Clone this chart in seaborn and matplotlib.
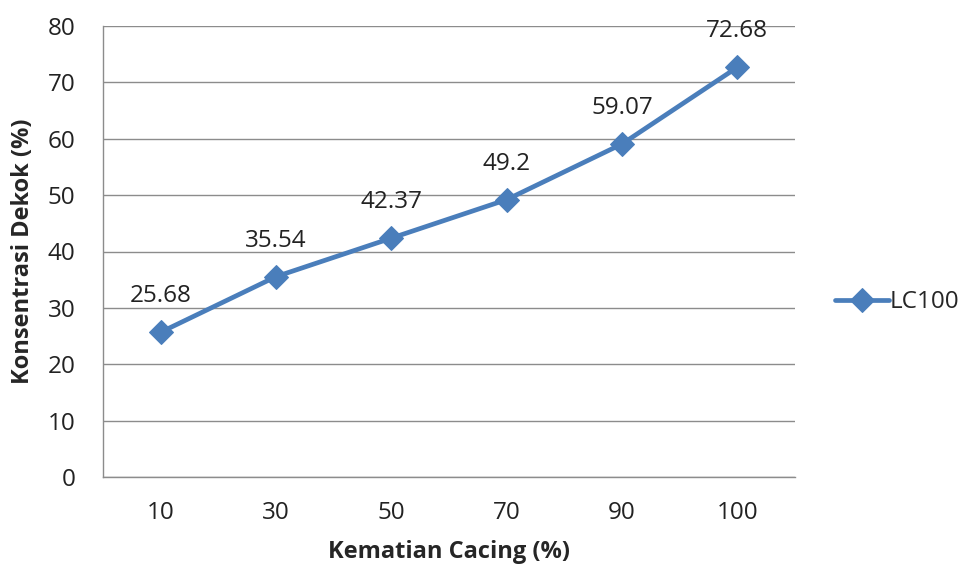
import matplotlib
matplotlib.use("Agg")
import matplotlib.pyplot as plt
import seaborn as sns
import pandas as pd

# Worm mortality levels (categorical x) and decoction concentration (%)
kematian = ["10", "30", "50", "70", "90", "100"]
konsentrasi = [25.68, 35.54, 42.37, 49.2, 59.07, 72.68]
label_teks = ["25.68", "35.54", "42.37", "49.2", "59.07", "72.68"]
y_ticks = [0, 10, 20, 30, 40, 50, 60, 70, 80]
series_name = "LC100"

df = pd.DataFrame({"Kematian": kematian, "Konsentrasi": konsentrasi})

sns.set_theme(style="white")
plt.rcParams["font.family"] = ["Open Sans", "DejaVu Sans"]

fig = plt.figure(figsize=(9.74, 5.70), dpi=100)
ax = fig.add_axes([103 / 974, 1 - 477 / 570, (795 - 103) / 974, (477 - 26) / 570])

blue = "#4A7EBB"
sns.lineplot(data=df, x="Kematian", y="Konsentrasi", ax=ax, color=blue,
             linewidth=3.4, marker="D", markersize=12, markeredgecolor=blue,
             label=series_name, sort=False)

for i, (v, t) in enumerate(zip(konsentrasi, label_teks)):
    ax.annotate(t, (i, v), xytext=(0, 21.5), textcoords="offset points",
                ha="center", va="baseline", fontsize=17.5, color="#222222")

ax.set_xlim(-0.5, len(kematian) - 0.5)
ax.set_ylim(0, 80)
ax.set_yticks(y_ticks)
ax.set_yticklabels([str(t) for t in y_ticks])
ax.grid(axis="y", color="#8c8c8c", linewidth=1.0)
ax.set_axisbelow(True)
for s in ["top", "right"]:
    ax.spines[s].set_visible(False)
for s in ["left", "bottom"]:
    ax.spines[s].set_color("#8c8c8c")
    ax.spines[s].set_linewidth(1.0)

ax.tick_params(axis="both", labelsize=17.5, colors="#222222", length=0)
ax.tick_params(axis="x", pad=17)
ax.tick_params(axis="y", pad=20)

ax.set_xlabel("Kematian Cacing (%)", fontsize=17, fontweight="bold", labelpad=11)
ax.set_ylabel("Konsentrasi Dekok (%)", fontsize=17, fontweight="bold", labelpad=9)

leg = ax.legend(loc="center left", bbox_to_anchor=(1.058, 0.388), frameon=False,
                fontsize=17.5, handlelength=2.2, handletextpad=0.05,
                borderpad=0, borderaxespad=0)

fig.savefig("out.png", dpi=100, facecolor="white")
